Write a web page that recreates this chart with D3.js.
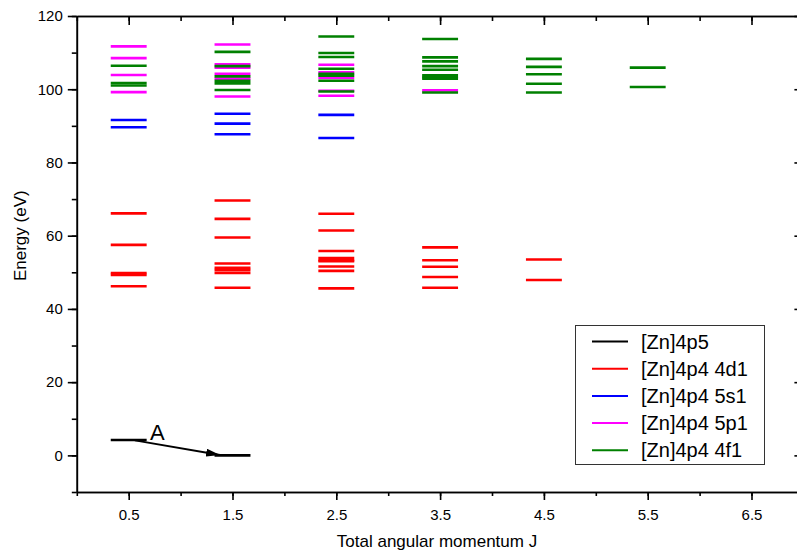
<!DOCTYPE html>
<html>
<head>
<meta charset="utf-8">
<script src="https://cdn.jsdelivr.net/npm/d3@7"></script>
<style>
  html, body { margin: 0; padding: 0; background: #fff; }
  svg { display: block; font-family: "Liberation Sans", Arial, sans-serif; }
</style>
</head>
<body>
<svg id="chart" width="797" height="554"></svg>
<script>
// Energy levels (eV) of each configuration, grouped as [J, E] pairs
const configNames = ["[Zn]4p5", "[Zn]4p4 4d1", "[Zn]4p4 5s1", "[Zn]4p4 5p1", "[Zn]4p4 4f1"];
const configColors = ["#000000", "#ff0000", "#0000ff", "#ff00ff", "#008000"];

const levels4p5 = [[0.5, 4.2], [1.5, 0.0]];

const levels4d = [
  [0.5, 66.1], [0.5, 57.5], [0.5, 49.8], [0.5, 49.3], [0.5, 46.2],
  [1.5, 69.6], [1.5, 64.6], [1.5, 59.5], [1.5, 52.4], [1.5, 51.2], [1.5, 50.6], [1.5, 49.8], [1.5, 45.8],
  [2.5, 66.0], [2.5, 61.4], [2.5, 55.8], [2.5, 53.9], [2.5, 53.3], [2.5, 53.0], [2.5, 51.6], [2.5, 50.4], [2.5, 45.6],
  [3.5, 56.8], [3.5, 53.3], [3.5, 51.5], [3.5, 48.7], [3.5, 45.8],
  [4.5, 53.5], [4.5, 47.9]
];

const levels5s = [
  [0.5, 91.6], [0.5, 89.6],
  [1.5, 93.3], [1.5, 90.6], [1.5, 87.7],
  [2.5, 93.0], [2.5, 86.7]
];

const levels5p = [
  [0.5, 111.7], [0.5, 108.5], [0.5, 103.9], [0.5, 99.2],
  [1.5, 112.2], [1.5, 106.8], [1.5, 105.9], [1.5, 104.2], [1.5, 102.9], [1.5, 98.0],
  [2.5, 106.7], [2.5, 104.6], [2.5, 103.1], [2.5, 99.6], [2.5, 98.2],
  [3.5, 99.7]
];

const levels4f = [
  [0.5, 106.4], [0.5, 101.7], [0.5, 101.0],
  [1.5, 110.2], [1.5, 106.3], [1.5, 103.5], [1.5, 102.3], [1.5, 101.6], [1.5, 99.8],
  [2.5, 114.4], [2.5, 109.9], [2.5, 108.8], [2.5, 105.6], [2.5, 104.2], [2.5, 103.7], [2.5, 102.3], [2.5, 99.4],
  [3.5, 113.7], [3.5, 108.7], [3.5, 107.6], [3.5, 106.3], [3.5, 105.3], [3.5, 103.8], [3.5, 103.3], [3.5, 102.9], [3.5, 99.1],
  [4.5, 108.3], [4.5, 106.1], [4.5, 104.1], [4.5, 101.5], [4.5, 99.1],
  [5.5, 105.9], [5.5, 100.6]
];

const levelSets = [levels4p5, levels4d, levels5s, levels5p, levels4f];

const xTickValues = [0.5, 1.5, 2.5, 3.5, 4.5, 5.5, 6.5];
const yTickValues = [0, 20, 40, 60, 80, 100, 120];

// Transition marked "A": from J=0.5 level to the J=1.5 ground level
const arrowFrom = [0.56, 4.1];
const arrowTo = [1.38, 0.1];
const arrowLabel = "A";

const svg = d3.select("#chart");
const x = d3.scaleLinear().domain([0, 7]).range([76.8, 803.4]);
const y = d3.scaleLinear().domain([-10, 120]).range([492, 16]);
const halfWidth = 0.173;

// Level bars
levelSets.forEach((set, i) => {
  svg.append("g")
    .selectAll("line")
    .data(set)
    .join("line")
    .attr("x1", d => x(d[0] - halfWidth))
    .attr("x2", d => x(d[0] + halfWidth))
    .attr("y1", d => y(d[1]))
    .attr("y2", d => y(d[1]))
    .attr("stroke", configColors[i])
    .attr("stroke-width", 2.6);
});

// Axes: bottom/left with outward ticks, top/right with inward ticks
const minorX = d3.range(0, 7.01, 0.5);
const minorY = d3.range(-10, 120.01, 10);
function styleAxis(g) {
  g.selectAll("path.domain").attr("stroke", "#000").attr("stroke-width", 1.6);
  g.selectAll(".tick line").attr("stroke", "#000").attr("stroke-width", 1.6);
}
const fmt = d3.format(".1f");

svg.append("g").attr("transform", `translate(0,${y(-10)})`)
  .call(d3.axisBottom(x).tickValues(minorX).tickSize(4).tickFormat("").tickSizeOuter(0)).call(styleAxis);
svg.append("g").attr("transform", `translate(0,${y(-10)})`)
  .call(d3.axisBottom(x).tickValues(xTickValues).tickSize(8).tickPadding(9).tickFormat(fmt).tickSizeOuter(0))
  .call(styleAxis)
  .call(g => g.selectAll("text").attr("font-size", 15).attr("fill", "#000").attr("font-family", "Liberation Sans, Arial, sans-serif"));

svg.append("g").attr("transform", `translate(0,${y(120)})`)
  .call(d3.axisBottom(x).tickValues(minorX).tickSize(5).tickFormat("").tickSizeOuter(0)).call(styleAxis);
svg.append("g").attr("transform", `translate(0,${y(120)})`)
  .call(d3.axisBottom(x).tickValues(xTickValues).tickSize(9).tickFormat("").tickSizeOuter(0)).call(styleAxis);

svg.append("g").attr("transform", `translate(${x(0)},0)`)
  .call(d3.axisLeft(y).tickValues(minorY).tickSize(5).tickFormat("").tickSizeOuter(0)).call(styleAxis);
svg.append("g").attr("transform", `translate(${x(0)},0)`)
  .call(d3.axisLeft(y).tickValues(yTickValues).tickSize(9).tickPadding(5).tickSizeOuter(0))
  .call(styleAxis)
  .call(g => g.selectAll("text").attr("font-size", 15).attr("fill", "#000").attr("font-family", "Liberation Sans, Arial, sans-serif"));

svg.append("g").attr("transform", `translate(${x(7)},0)`)
  .call(d3.axisLeft(y).tickValues(minorY).tickSize(5).tickFormat("").tickSizeOuter(0)).call(styleAxis);
svg.append("g").attr("transform", `translate(${x(7)},0)`)
  .call(d3.axisLeft(y).tickValues(yTickValues).tickSize(9).tickFormat("").tickSizeOuter(0)).call(styleAxis);

// Axis titles
svg.append("text")
  .attr("x", 437).attr("y", 547)
  .attr("text-anchor", "middle")
  .attr("font-size", 17)
  .text("Total angular momentum J");
svg.append("text")
  .attr("transform", `translate(26,${y(60)}) rotate(-90)`)
  .attr("text-anchor", "middle")
  .attr("font-size", 17)
  .text("Energy (eV)");

// Transition arrow
svg.append("defs").append("marker")
  .attr("id", "arrowhead")
  .attr("viewBox", "0 0 14 8")
  .attr("refX", 14).attr("refY", 4)
  .attr("markerWidth", 14).attr("markerHeight", 8)
  .attr("markerUnits", "userSpaceOnUse")
  .attr("orient", "auto")
  .append("path").attr("d", "M0,0 L14,4 L0,8 Z").attr("fill", "#000");

svg.append("line")
  .attr("x1", x(arrowFrom[0])).attr("y1", y(arrowFrom[1]))
  .attr("x2", x(arrowTo[0])).attr("y2", y(arrowTo[1]))
  .attr("stroke", "#000").attr("stroke-width", 2)
  .attr("marker-end", "url(#arrowhead)");
svg.append("text")
  .attr("x", 150).attr("y", 440)
  .attr("font-size", 22)
  .text(arrowLabel);

// Legend
const legend = svg.append("g");
legend.append("rect")
  .attr("x", 575.5).attr("y", 325.5)
  .attr("width", 189).attr("height", 139)
  .attr("fill", "#fff").attr("stroke", "#333").attr("stroke-width", 1);
configNames.forEach((name, i) => {
  const ry = 341.5 + i * 27.2;
  legend.append("line")
    .attr("x1", 592).attr("x2", 628)
    .attr("y1", ry).attr("y2", ry)
    .attr("stroke", configColors[i]).attr("stroke-width", 2);
  legend.append("text")
    .attr("x", 641).attr("y", ry + 7)
    .attr("font-size", 20)
    .text(name);
});
</script>
</body>
</html>
